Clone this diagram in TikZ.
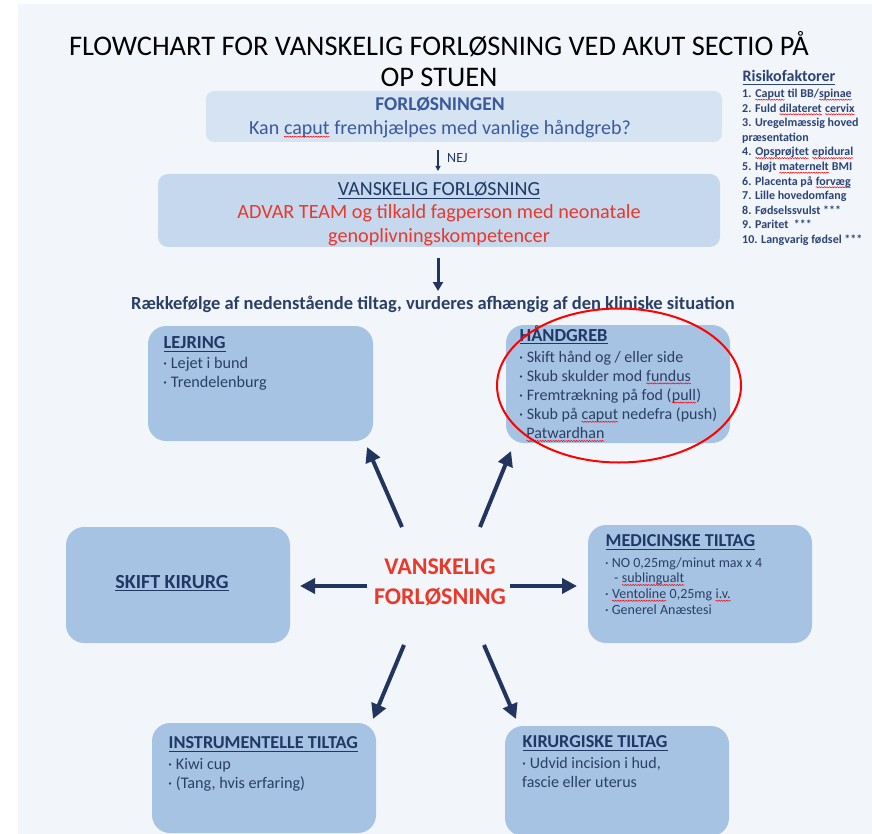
\documentclass[tikz,border=0pt]{standalone}
\usepackage{fontspec}
\setmainfont{Carlito}
\usetikzlibrary{arrows.meta,decorations.pathmorphing}
\definecolor{panel}{HTML}{F2F6FB}
\definecolor{boxa}{HTML}{D6E3F3}
\definecolor{boxb}{HTML}{C6D8EE}
\definecolor{boxc}{HTML}{A7C3E3}
\definecolor{navy}{HTML}{1F3864}
\definecolor{navyarr}{HTML}{22355F}
\definecolor{bluetxt}{HTML}{3A5A9C}
\definecolor{redtxt}{HTML}{E8392B}
\definecolor{risk}{HTML}{2C4475}
\definecolor{itemtxt}{HTML}{2B3F66}
\newcommand\sq[1]{\tikz[baseline=(w.base)]{\node[inner sep=0pt, outer sep=0pt, anchor=base] (w) {#1};
 \draw[red, line width=0.5pt, decorate, decoration={snake, amplitude=0.6pt, segment length=2.6pt}] ([yshift=-2.2pt]w.base west) -- ([yshift=-2.2pt]w.base east);}}
\newcommand\ul[2][1pt]{\tikz[baseline=(u.base)]{\node[inner sep=0pt, outer sep=0pt, anchor=base] (u) {#2};
 \draw[line width=#1] ([yshift=-2.6pt]u.base west) -- ([yshift=-2.6pt]u.base east);}}
\newcommand\fs[2]{\fontsize{#1}{#2}\selectfont}
\newcommand\lines[1]{\vtop{\halign{##\hfil\cr#1\crcr}}}
\newcommand\clines[1]{\vtop{\halign{\hfil##\hfil\cr#1\crcr}}}
\tikzset{
  bluebox/.style={fill=boxc, rounded corners=18pt, inner sep=0pt},
  boxtext/.style={anchor=base west, inner sep=0pt, text=itemtxt},
  boxtitle/.style={anchor=base west, inner sep=0pt, text=navy},
  bigarrow/.style={draw=navyarr, line width=4pt, -{Triangle[length=15pt,width=15pt]}},
}
\begin{document}
\begin{tikzpicture}[x=1pt,y=-1pt]
\useasboundingbox (0,0) rectangle (872,834);
\fill[white] (0,0) rectangle (872,834);
\fill[panel] (18,4) rectangle (872,834);

% title
\node[anchor=base, inner sep=0pt] (title1) at (439,56) {\fs{28.4}{32}FLOWCHART FOR VANSKELIG FORLØSNING VED AKUT SECTIO PÅ};
\node[anchor=base, inner sep=0pt] (title2) at (439,87) {\fs{28.4}{32}OP STUEN};

% box 1
\node[fill=boxa, rounded corners=8pt, minimum width=516pt, minimum height=51pt, inner sep=0pt] (b1) at (464,116.5) {};
\node[anchor=base, inner sep=0pt, text=bluetxt] (b1t) at (440,110.5) {\fs{19.5}{22}\bfseries FORLØSNINGEN};
\node[anchor=base, inner sep=0pt, text=bluetxt] (b1q) at (440,134.5) {\fs{20}{22}Kan \sq{caput} fremhjælpes med vanlige håndgreb?};

% NEJ arrow
\coordinate (nejs) at (438,150);
\coordinate (neje) at (438,171);
\draw[draw=navyarr, line width=1.2pt, -{Triangle[length=5pt,width=5pt]}] (nejs) -- (neje);
\node[anchor=base west, inner sep=0pt, text=navy] (nej) at (447,163) {\fs{14}{16}NEJ};

% box 2
\node[fill=boxb, rounded corners=10pt, minimum width=562pt, minimum height=73pt, inner sep=0pt] (b2) at (439,210.5) {};
\node[anchor=base, inner sep=0pt, text=navy] (b2t) at (439,195.5) {\fs{20}{22}\ul[0.9pt]{VANSKELIG FORLØSNING}};
\node[anchor=base, inner sep=0pt, text=redtxt] (b2r1) at (439,218.5) {\fs{20.2}{22}ADVAR TEAM og tilkald fagperson med neonatale};
\node[anchor=base, inner sep=0pt, text=redtxt] (b2r2) at (439,242.5) {\fs{20.2}{22}genoplivningskompetencer};

\coordinate (b2s) at (438,258);
\coordinate (b2e) at (438,291);
\draw[draw=navyarr, line width=3pt, -{Triangle[length=9pt,width=10pt]}] (b2s) -- (b2e);

\node[anchor=base, inner sep=0pt, text=itemtxt] (rk) at (433,309) {\fs{18.5}{20}\bfseries Rækkefølge af nedenstående tiltag, vurderes afhængig af den kliniske situation};

% risk factors
\node[anchor=base west, inner sep=0pt, text=risk] (riskt) at (742,82) {\fs{16}{18}\bfseries\ul[1pt]{Risikofaktorer}};
\node[anchor=base west, inner sep=0pt, text=risk] (riskl) at (742,97.5) {\fs{12}{14.6}\bfseries\lines{%
1. \sq{Caput} til BB/\sq{spinae}\cr
2. Fuld \sq{dilateret} \sq{cervix}\cr
3. Uregelmæssig hoved\cr
præsentation\cr
4. \sq{Opsprøjtet} \sq{epidural}\cr
5. Højt \sq{maternelt} BMI\cr
6. Placenta på \sq{forvæg}\cr
7. Lille hovedomfang\cr
8. Fødselssvulst ***\cr
9. Paritet~~***\cr
10. Langvarig fødsel ***}};

% outer boxes
\node[bluebox, minimum width=225pt, minimum height=115pt] (lej) at (260.5,383.5) {};
\node[bluebox, minimum width=224pt, minimum height=118pt] (hg) at (618,384) {};
\node[bluebox, minimum width=224pt, minimum height=118pt] (med) at (700,584) {};
\node[bluebox, minimum width=224pt, minimum height=116pt] (sk) at (178,585) {};
\node[bluebox, minimum width=224pt, minimum height=110pt] (ins) at (264,778) {};
\node[bluebox, minimum width=224pt, minimum height=110pt] (kir) at (617,781) {};

% LEJRING
\node[boxtitle] (lejt) at (163,348.5) {\fs{18.4}{20}\bfseries\ul{LEJRING}};
\node[boxtext] (lejl) at (163,368.5) {\fs{16.2}{18.5}\lines{· Lejet i bund\cr · Trendelenburg}};

% HAANDGREB
\node[boxtitle] (hgt) at (519,341) {\fs{18.4}{20}\bfseries\ul{HÅNDGREB}};
\node[boxtext] (hgl) at (519,362) {\fs{16}{19.2}\lines{· Skift hånd og / eller side\cr
· Skub skulder mod \sq{fundus}\cr
· Fremtrækning på fod (\sq{pull})\cr
· Skub på \sq{caput} nedefra (push)\cr
\hspace*{7pt}\sq{Patwardhan}}};

% MEDICINSKE
\node[boxtitle] (medt) at (605,546.5) {\fs{18.2}{20}\bfseries\ul{MEDICINSKE TILTAG}};
\node[boxtext] (medl) at (605,567) {\fs{14}{15.8}\lines{· NO 0,25mg/minut max x 4\cr
\hspace*{9pt}- \sq{sublingualt}\cr
· \sq{Ventoline} 0,25mg \sq{i.v.}\cr
· Generel Anæstesi}};

% SKIFT KIRURG
\node[anchor=base, inner sep=0pt, text=navy] (skt) at (172,588) {\fs{20}{22}\bfseries\ul{SKIFT KIRURG}};

% INSTRUMENTELLE
\node[boxtitle] (inst) at (168,748.5) {\fs{18.2}{20}\bfseries\ul{INSTRUMENTELLE TILTAG}};
\node[boxtext] (insl) at (168,769.5) {\fs{16.2}{19}\lines{· Kiwi cup\cr · (Tang, hvis erfaring)}};

% KIRURGISKE
\node[boxtitle] (kirt) at (522,747.5) {\fs{18.2}{20}\bfseries\ul{KIRURGISKE TILTAG}};
\node[boxtext] (kirl) at (522,768) {\fs{16}{19}\lines{· Udvid incision i hud,\cr fascie eller uterus}};

% center
\node[anchor=base, inner sep=0pt, text=redtxt] (c) at (440,574.5) {\fs{24}{30}\bfseries\clines{VANSKELIG\cr FORLØSNING}};

% arrows
\coordinate (a1s) at (402,527); \coordinate (a1e) at (367,447);
\coordinate (a2s) at (480,527); \coordinate (a2e) at (511,451);
\coordinate (a3s) at (367,586); \coordinate (a3e) at (300,586);
\coordinate (a4s) at (510,586); \coordinate (a4e) at (577,586);
\coordinate (a5s) at (404,645); \coordinate (a5e) at (373,719);
\coordinate (a6s) at (484,645); \coordinate (a6e) at (516,719);
\draw[bigarrow] (a1s) -- (a1e);
\draw[bigarrow] (a2s) -- (a2e);
\draw[bigarrow] (a3s) -- (a3e);
\draw[bigarrow] (a4s) -- (a4e);
\draw[bigarrow] (a5s) -- (a5e);
\draw[bigarrow] (a6s) -- (a6e);

% red ellipse
\draw[red, line width=2pt] (619,385.5) ellipse [x radius=122pt, y radius=77pt];
\end{tikzpicture}
\end{document}
